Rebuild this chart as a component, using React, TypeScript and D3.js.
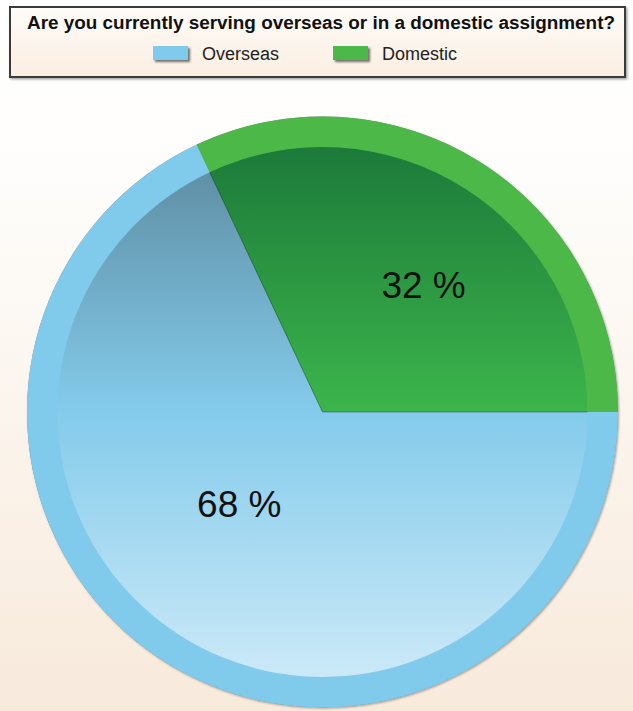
import React from "react";
import * as d3 from "d3";

const title = "Are you currently serving overseas or in a domestic assignment?";
const categories = ["Overseas", "Domestic"];
const values = [68, 32];
const valueLabels = values.map((v) => `${v} %`);

const W = 633;
const H = 711;
const CX = 322.5;
const CY = 412;
const R = 295.5;
const RI = 265;

const rimColors = ["#80cbec", "#4cb848"];
const innerStops = [
  ["#5b8a9f", "#84cbeb", "#cbe9f7"],
  ["#1c7a3a", "#3cb54b", "#5cc066"],
];
// label placement (layout constants)
const LABEL_SHIFT = [0.17, 0.106];
const LABEL_R = [0.42, 0.55];

export default function App() {
  React.useEffect(() => {
    document.body.style.margin = "0";
    document.body.style.overflow = "hidden";
  }, []);

  const pie = d3
    .pie<number>()
    .sort(null)
    .startAngle(Math.PI / 2)
    .endAngle(Math.PI / 2 + 2 * Math.PI);
  const arcs = pie(values);
  const outerArc = d3.arc<d3.PieArcDatum<number>>().innerRadius(0).outerRadius(R);
  const innerArc = d3.arc<d3.PieArcDatum<number>>().innerRadius(0).outerRadius(RI);

  return (
    <svg width={W} height={H} style={{ position: "absolute", left: 0, top: 0, display: "block" }}>
      <defs>
        <linearGradient id="bg" x1="0" y1="0" x2="0" y2="1">
          <stop offset="0" stopColor="#ffffff" />
          <stop offset="0.25" stopColor="#fefdfb" />
          <stop offset="1" stopColor="#f8eadb" />
        </linearGradient>
        <linearGradient id="boxbg" x1="0" y1="0" x2="0" y2="1">
          <stop offset="0" stopColor="#fefcf9" />
          <stop offset="1" stopColor="#fbeee1" />
        </linearGradient>
        {innerStops.map((s, i) => (
          <linearGradient
            key={i}
            id={`inner${i}`}
            gradientUnits="userSpaceOnUse"
            x1={0}
            y1={-RI}
            x2={0}
            y2={RI}
          >
            <stop offset="0" stopColor={s[0]} />
            <stop offset="0.5" stopColor={s[1]} />
            <stop offset="1" stopColor={s[2]} />
          </linearGradient>
        ))}
        <filter id="pieShadow" x="-10%" y="-10%" width="120%" height="120%">
          <feDropShadow dx="1" dy="1" stdDeviation="1.2" floodColor="#000" floodOpacity="0.35" />
        </filter>
        <filter id="swShadow" x="-20%" y="-30%" width="150%" height="180%">
          <feDropShadow dx="2" dy="2" stdDeviation="1" floodColor="#333" floodOpacity="0.7" />
        </filter>
        <filter id="boxShadow" x="-5%" y="-20%" width="110%" height="150%">
          <feDropShadow dx="1.5" dy="1.5" stdDeviation="1" floodColor="#000" floodOpacity="0.35" />
        </filter>
      </defs>

      <rect x={0} y={0} width={W} height={H} fill="url(#bg)" />

      {/* title / legend box */}
      <rect
        x={10}
        y={7}
        width={615}
        height={70}
        fill="url(#boxbg)"
        stroke="#3a3a3a"
        strokeWidth={2}
        filter="url(#boxShadow)"
      />
      <text
        x={321}
        y={29}
        textAnchor="middle"
        fontFamily="'Liberation Sans', Arial, sans-serif"
        fontWeight="bold"
        fontSize={17.5}
        fill="#111"
        textLength={588}
        lengthAdjust="spacingAndGlyphs"
      >
        {title}
      </text>
      {categories.map((c, i) => {
        const x0 = 153 + i * 180;
        return (
          <g key={c}>
            <rect
              x={x0}
              y={46}
              width={35}
              height={14}
              fill={rimColors[i]}
              filter="url(#swShadow)"
            />
            <text
              x={x0 + 49}
              y={60}
              fontFamily="'Liberation Sans', Arial, sans-serif"
              fontSize={18}
              fill="#222"
            >
              {c}
            </text>
          </g>
        );
      })}

      {/* pie */}
      <g transform={`translate(${CX},${CY})`}>
        <circle r={R} fill="#888" filter="url(#pieShadow)" />
        {arcs.map((a, i) => (
          <path key={`o${i}`} d={outerArc(a) ?? ""} fill={rimColors[i]} />
        ))}
        {arcs.map((a, i) => (
          <path key={`i${i}`} d={innerArc(a) ?? ""} fill={`url(#inner${i})`} />
        ))}
        {arcs.map((a, i) => (
          <line
            key={`s${i}`}
            x1={0}
            y1={0}
            x2={Math.sin(a.startAngle) * RI}
            y2={-Math.cos(a.startAngle) * RI}
            stroke="rgba(0,0,0,0.3)"
            strokeWidth={1}
          />
        ))}
        {arcs.map((a, i) => {
          const ang = (a.startAngle + a.endAngle) / 2 + LABEL_SHIFT[i];
          const r = LABEL_R[i] * R;
          const x = Math.sin(ang) * r;
          const y = -Math.cos(ang) * r;
          return (
            <text
              key={`l${i}`}
              x={x}
              y={y}
              dy="0.36em"
              textAnchor="middle"
              fontFamily="'Liberation Sans', Arial, sans-serif"
              fontSize={37}
              fill="#111"
            >
              {valueLabels[i]}
            </text>
          );
        })}
      </g>
    </svg>
  );
}
